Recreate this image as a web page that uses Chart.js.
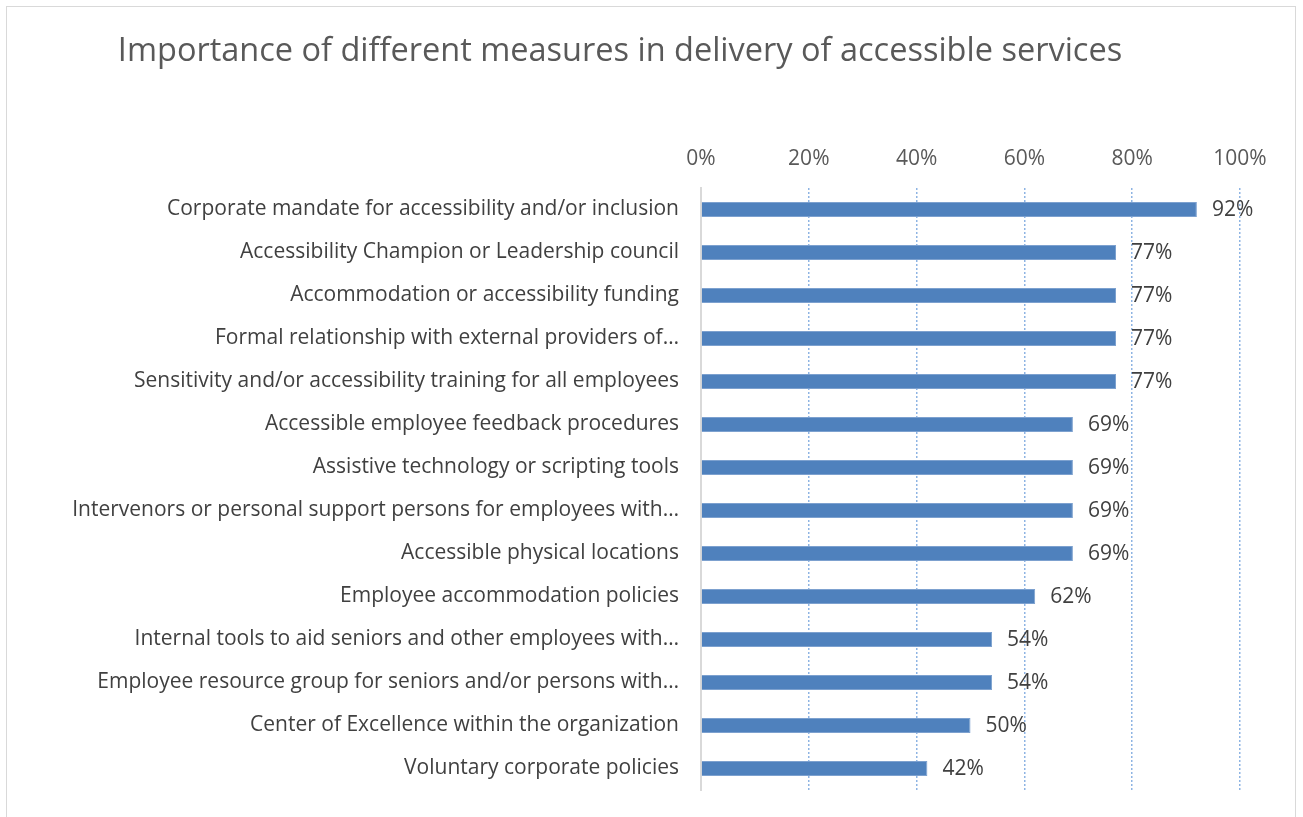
<!DOCTYPE html>
<html>
<head>
<meta charset="utf-8">
<script src="https://cdn.jsdelivr.net/npm/chart.js@4.4.1/dist/chart.umd.min.js"></script>
<style>
  html, body { margin: 0; padding: 0; background: #fff; }
  #frame {
    position: absolute; left: 6px; top: 6px; width: 1290px; height: 830px;
    border: 1px solid #d9d9d9; box-sizing: border-box;
  }
  #wrap { position: absolute; left: 0; top: 0; width: 1303px; height: 817px; }
</style>
</head>
<body>
<div id="frame"></div>
<div id="wrap"><canvas id="chart"></canvas></div>
<script>
const TITLE = "Importance of different measures in delivery of accessible services";

const MEASURES = [
  "Corporate mandate for accessibility and/or inclusion",
  "Accessibility Champion or Leadership council",
  "Accommodation or accessibility funding",
  "Formal relationship with external providers of…",
  "Sensitivity and/or accessibility training for all employees",
  "Accessible employee feedback procedures",
  "Assistive technology or scripting tools",
  "Intervenors or personal support persons for employees with…",
  "Accessible physical locations",
  "Employee accommodation policies",
  "Internal tools to aid seniors and other employees with…",
  "Employee resource group for seniors and/or persons with…",
  "Center of Excellence within the organization",
  "Voluntary corporate policies",
];

const SHARES = [0.92, 0.77, 0.77, 0.77, 0.77, 0.69, 0.69, 0.69, 0.69, 0.62, 0.54, 0.54, 0.50, 0.42];

const X_TICKS = [0, 0.2, 0.4, 0.6, 0.8, 1.0];

const BAR = "#4f81bd";
const GRID = "#8eb4e3";
const INK = "#404040";
const INK2 = "#595959";
const FONT = '"Open Sans", sans-serif';

// etiketler çubuğun ucuna, biraz boşlukla
const barLabels = {
  id: "barLabels",
  afterDatasetsDraw(chart) {
    const { ctx } = chart;
    const meta = chart.getDatasetMeta(0);
    ctx.save();
    ctx.font = "21px " + FONT;
    ctx.fillStyle = INK;
    ctx.textAlign = "left";
    ctx.textBaseline = "middle";
    meta.data.forEach((bar, i) => {
      ctx.fillText(Math.round(SHARES[i] * 100) + "%", bar.x + 15, bar.y + 1);
    });
    ctx.restore();
  },
};

new Chart(document.getElementById("chart"), {
  type: "bar",
  data: {
    labels: MEASURES,
    datasets: [
      {
        data: SHARES,
        backgroundColor: BAR,
        borderColor: "#7da1cf",
        borderWidth: 1,
        barPercentage: 0.35,
        categoryPercentage: 1,
      },
    ],
  },
  plugins: [barLabels],
  options: {
    indexAxis: "y",
    responsive: true,
    maintainAspectRatio: false,
    animation: false,
    layout: { padding: { top: 6, right: 63, bottom: 27, left: 0 } },
    plugins: {
      legend: { display: false },
      tooltip: { enabled: false },
      title: {
        display: true,
        text: TITLE,
        color: INK2,
        font: { family: FONT, size: 32.5, weight: "normal" },
        padding: { top: 26, bottom: 8 },
      },
    },
    scales: {
      x: {
        position: "top",
        min: 0,
        max: 1,
        afterBuildTicks: (s) => {
          s.ticks = X_TICKS.map((v) => ({ value: v }));
        },
        afterFit: (s) => {
          s.height = 109;
        },
        ticks: {
          color: INK2,
          font: { family: FONT, size: 21 },
          padding: 16,
          callback: (v) => Math.round(v * 100) + "%",
        },
        grid: {
          color: (c) => (c.index === 0 ? "rgba(0,0,0,0)" : GRID),
          lineWidth: 1.5,
          drawTicks: false,
        },
        border: { display: false, dash: [2, 2] },
      },
      y: {
        afterFit: (s) => {
          s.width = 701;
          s.paddingTop = 0;
          s.paddingBottom = 0;
        },
        ticks: {
          color: INK,
          font: { family: FONT, size: 21 },
          padding: 22,
        },
        grid: { display: false, drawTicks: false },
        border: { display: true, color: "#d9d9d9", width: 2 },
      },
    },
  },
});
</script>
</body>
</html>
